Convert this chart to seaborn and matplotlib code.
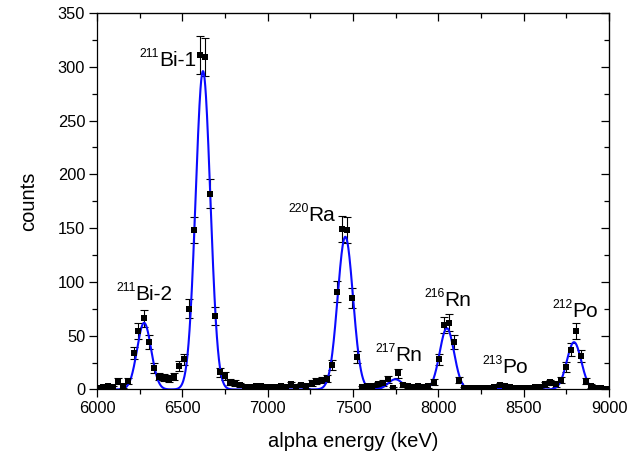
import numpy as np
import matplotlib
matplotlib.use('Agg')
import matplotlib.pyplot as plt
import seaborn as sns

# measured spectrum (bin centres in keV, counts per bin)
energy = [6005, 6035, 6065, 6094, 6124, 6154, 6184, 6214, 6243, 6273,
          6303, 6333, 6363, 6392, 6422, 6452, 6482, 6512, 6541, 6571,
          6601, 6631, 6661, 6690, 6720, 6750, 6780, 6810, 6839, 6869,
          6899, 6929, 6959, 6988, 7018, 7048, 7078, 7108, 7137, 7167,
          7197, 7227, 7257, 7286, 7316, 7346, 7376, 7406, 7435, 7465,
          7495, 7525, 7555, 7584, 7614, 7644, 7674, 7704, 7733, 7763,
          7793, 7823, 7853, 7882, 7912, 7942, 7972, 8002, 8031, 8061,
          8091, 8121, 8151, 8180, 8210, 8240, 8270, 8300, 8329, 8359,
          8389, 8419, 8449, 8478, 8508, 8538, 8568, 8597, 8627, 8657,
          8687, 8717, 8746, 8776, 8806, 8836, 8866, 8895, 8925, 8955,
          8985]
counts = [1, 2, 3, 2, 8, 3.5, 7.5, 34, 54, 66,
          44, 20, 12, 11, 10, 12, 22, 28, 75, 148,
          311, 309, 182, 68, 16, 12.5, 7, 6, 4, 2,
          2, 3, 3, 2, 2, 2, 3, 2, 5, 2,
          4, 3, 6, 8, 9, 10, 23, 91, 149, 148,
          85, 30, 2, 3, 3, 5, 6, 9.5, 1, 15,
          4, 3, 2, 3, 2, 3, 7, 28, 60, 62,
          44, 9, 1, 1, 1, 1, 1, 1, 2, 4,
          3.5, 2, 1, 1, 1, 1, 2, 2.6, 5, 6.5,
          5, 9, 21, 37, 54, 31, 8, 3, 1, 1,
          0.5]

# gaussian fit components: centre (keV), height (counts), sigma (keV)
fit_center = [6276, 6621, 7455, 7748, 8050, 8380, 8795]
fit_height = [62, 296, 142, 9.5, 57, 1.3, 44]
fit_sigma = [41, 43, 45, 42, 42, 50, 42]

# peak labels: mass number, name, left/baseline position in data coords
label_mass = ['211', '211', '220', '217', '216', '213', '212']
label_name = ['Bi-2', 'Bi-1', 'Ra', 'Rn', 'Rn', 'Po', 'Po']
label_x = [6226, 6362, 7240, 7746, 8033, 8377, 8786]
label_y = [83.2, 301, 156.6, 26.8, 77.9, 15, 67.7]

sns.set_style("ticks")
plt.rcParams['font.family'] = ['Liberation Sans', 'DejaVu Sans']
plt.rcParams.update({'text.color': 'black', 'axes.labelcolor': 'black',
                     'xtick.color': 'black', 'ytick.color': 'black',
                     'axes.edgecolor': 'black'})

fig = plt.figure(figsize=(6.27, 4.58), dpi=100)
ax = fig.add_axes([0.1547, 0.1496, 0.8166, 0.822])

x_fit = np.linspace(6000, 9000, 1500)
y_fit = np.zeros_like(x_fit)
for c, h, s in zip(fit_center, fit_height, fit_sigma):
    y_fit += h * np.exp(-0.5 * ((x_fit - c) / s) ** 2)

ax.errorbar(energy, counts, yerr=np.sqrt(counts), fmt='none',
            ecolor='black', elinewidth=0.8, capsize=2.6, capthick=0.8, zorder=2)
sns.lineplot(x=x_fit, y=y_fit, color='#0a0aff', linewidth=1.5, ax=ax, zorder=3)
sns.scatterplot(x=energy, y=counts, marker='s', s=20, color='black',
                edgecolor='black', linewidth=0, ax=ax, zorder=4)

for m, n, x, y in zip(label_mass, label_name, label_x, label_y):
    ax.text(x, y, n, fontsize=15, ha='left', va='baseline')
    ax.annotate(m, xy=(x, y), xytext=(0.3, 6.5), textcoords='offset points',
                fontsize=8.8, ha='right', va='baseline')

ax.set_xlim(6000, 9000)
ax.set_ylim(0, 350)
ax.set_xticks(range(6000, 9001, 500))
ax.set_xticks(range(6000, 9001, 250), minor=True)
ax.set_yticks(range(0, 351, 50))
ax.set_yticks(range(0, 351, 25), minor=True)
ax.tick_params(which='major', direction='out', length=5.5, width=0.9,
               labelsize=11.8, pad=3)
ax.tick_params(which='minor', direction='out', length=3.3, width=0.9)
ax.set_xlabel('alpha energy (keV)', fontsize=14.5, labelpad=11)
ax.set_ylabel('counts', fontsize=14.5, labelpad=14)

# mirrored axes with inward ticks and no labels
top = ax.secondary_xaxis('top')
top.set_xticks(range(6000, 9001, 500))
top.set_xticks(range(6000, 9001, 250), minor=True)
top.tick_params(which='major', direction='in', length=5.5, width=0.9, labeltop=False)
top.tick_params(which='minor', direction='in', length=3.3, width=0.9)
right = ax.secondary_yaxis('right')
right.set_yticks(range(0, 351, 50))
right.set_yticks(range(0, 351, 25), minor=True)
right.tick_params(which='major', direction='in', length=5.5, width=0.9, labelright=False)
right.tick_params(which='minor', direction='in', length=3.3, width=0.9)

for sp in ax.spines.values():
    sp.set_visible(True)
    sp.set_linewidth(0.9)

plt.savefig('out.png', dpi=100)
